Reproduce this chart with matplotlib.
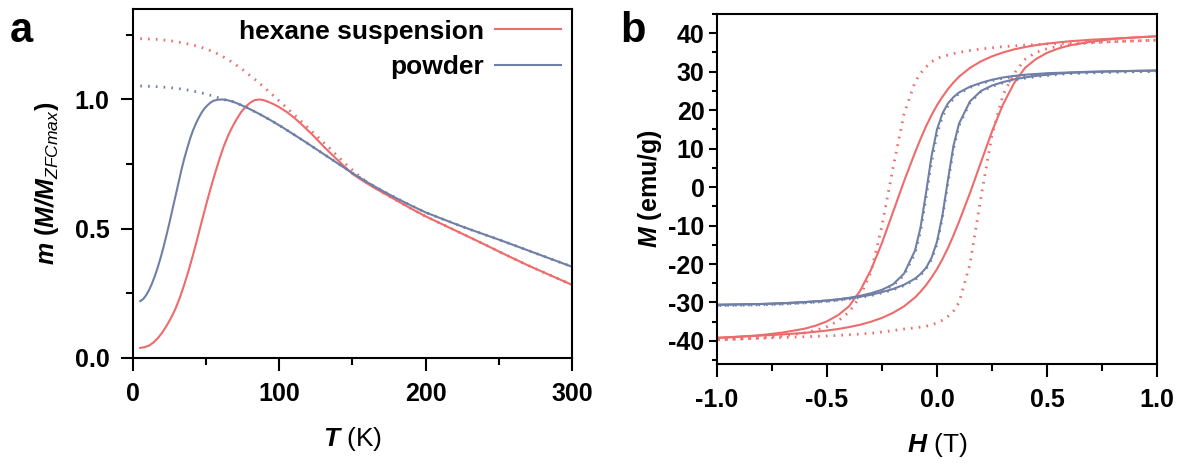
import matplotlib
matplotlib.use('Agg')
import matplotlib.pyplot as plt
from matplotlib.ticker import MultipleLocator

plt.rcParams['font.family'] = 'Liberation Sans'
plt.rcParams['mathtext.fontset'] = 'custom'
plt.rcParams['mathtext.rm'] = 'Liberation Sans'
plt.rcParams['mathtext.it'] = 'Liberation Sans:italic'
plt.rcParams['mathtext.bf'] = 'Liberation Sans:bold'
plt.rcParams['mathtext.bfit'] = 'Liberation Sans:bold:italic'

red = '#EE6B6B'
blue = '#6F7FA6'

# panel a: ZFC (solid) / FC (dotted), m = M/M_ZFCmax
T_hex_zfc = [5, 8, 11, 14, 17, 20, 23, 26, 29, 32, 35, 38, 41, 44, 47, 50, 53, 56, 59, 62,
             65, 68, 71, 74, 77, 80, 83, 86, 89, 92, 96, 100, 105, 110, 115, 120, 125, 130,
             135, 140, 145, 150, 155, 160, 165, 170, 180, 190, 200, 210, 220, 230, 240,
             250, 260, 270, 280, 290, 300]
m_hex_zfc = [0.039, 0.042, 0.048, 0.06, 0.077, 0.098, 0.125, 0.155, 0.19, 0.233, 0.283,
             0.338, 0.398, 0.462, 0.528, 0.593, 0.655, 0.713, 0.768, 0.818, 0.86, 0.895,
             0.925, 0.952, 0.972, 0.987, 0.997, 1.0, 0.998, 0.992, 0.982, 0.97, 0.952,
             0.93, 0.905, 0.878, 0.85, 0.82, 0.792, 0.765, 0.738, 0.712, 0.693, 0.675,
             0.658, 0.642, 0.61, 0.578, 0.548, 0.521, 0.494, 0.467, 0.44, 0.412, 0.385,
             0.358, 0.333, 0.308, 0.283]
T_hex_fc = [5, 15, 25, 35, 45, 55, 65, 75, 85, 95, 105, 115, 125, 135, 145, 155, 165, 175,
            180, 190, 200, 210, 220, 230, 240, 250, 260, 270, 280, 290, 300]
m_hex_fc = [1.235, 1.233, 1.228, 1.218, 1.205, 1.185, 1.155, 1.115, 1.07, 1.02, 0.968,
            0.915, 0.862, 0.808, 0.752, 0.702, 0.66, 0.625, 0.61, 0.578, 0.548, 0.521,
            0.494, 0.467, 0.44, 0.412, 0.385, 0.358, 0.333, 0.308, 0.283]

T_pow_zfc = [5, 7, 9, 11, 13, 15, 17, 19, 21, 23, 25, 27, 29, 31, 33, 35, 37, 39, 41, 43,
             45, 47, 49, 51, 53, 55, 58, 61, 64, 68, 72, 78, 86, 94, 102, 110, 118, 126,
             134, 142, 150, 160, 170, 180, 190, 200, 210, 220, 230, 240, 250, 260, 270,
             280, 290, 300]
m_pow_zfc = [0.22, 0.228, 0.243, 0.263, 0.288, 0.318, 0.352, 0.39, 0.432, 0.478, 0.525,
             0.575, 0.625, 0.675, 0.725, 0.77, 0.81, 0.848, 0.88, 0.907, 0.93, 0.95,
             0.966, 0.978, 0.988, 0.995, 0.999, 1.0, 0.998, 0.992, 0.983, 0.968, 0.945,
             0.92, 0.893, 0.864, 0.835, 0.805, 0.775, 0.745, 0.715, 0.68, 0.648, 0.618,
             0.59, 0.563, 0.541, 0.519, 0.498, 0.478, 0.458, 0.437, 0.416, 0.395, 0.374,
             0.353]
T_pow_fc = [5, 15, 25, 35, 45, 55, 62, 68, 72, 78, 86, 94, 102, 110, 118, 126, 134, 142,
            150, 160, 170, 180, 190, 200, 210, 220, 230, 240, 250, 260, 270, 280, 290, 300]
m_pow_fc = [1.052, 1.05, 1.046, 1.039, 1.028, 1.013, 1.0, 0.992, 0.983, 0.968, 0.945,
            0.92, 0.893, 0.864, 0.835, 0.805, 0.775, 0.745, 0.715, 0.68, 0.648, 0.618,
            0.59, 0.563, 0.541, 0.519, 0.498, 0.478, 0.458, 0.437, 0.416, 0.395, 0.374,
            0.353]

# panel b: hysteresis loops, branch from +1 T down and from -1 T up
H_dn = [1.0, 0.9, 0.8, 0.7, 0.6, 0.55, 0.5, 0.45, 0.4, 0.35, 0.3, 0.25, 0.2, 0.15, 0.1,
        0.075, 0.05, 0.025, 0.0, -0.025, -0.05, -0.075, -0.1, -0.15, -0.2, -0.25, -0.3,
        -0.35, -0.4, -0.45, -0.5, -0.55, -0.6, -0.7, -0.8, -0.9, -1.0]
H_up = [-1.0, -0.9, -0.8, -0.7, -0.6, -0.55, -0.5, -0.45, -0.4, -0.35, -0.3, -0.25, -0.2,
        -0.15, -0.1, -0.075, -0.05, -0.025, 0.0, 0.025, 0.05, 0.075, 0.1, 0.15, 0.2, 0.25,
        0.3, 0.35, 0.4, 0.45, 0.5, 0.55, 0.6, 0.7, 0.8, 0.9, 1.0]

M_hex_dn = [39.2, 38.9, 38.6, 38.3, 37.9, 37.6, 37.3, 36.9, 36.4, 35.8, 35.0, 34.0, 32.7,
            31.0, 28.7, 27.2, 25.5, 23.5, 21.3, 18.7, 15.8, 12.5, 9.0, 1.5, -6.5, -14.5,
            -21.5, -27.0, -31.0, -33.3, -34.9, -36.0, -36.8, -37.8, -38.5, -38.9, -39.2]
M_hex_up = [-39.2, -38.9, -38.6, -38.3, -37.9, -37.6, -37.3, -36.9, -36.4, -35.8, -35.0,
            -34.0, -32.7, -31.0, -28.7, -27.2, -25.5, -23.5, -21.3, -18.7, -15.8, -12.5,
            -9.0, -1.5, 6.5, 14.5, 21.5, 27.0, 31.0, 33.3, 34.9, 36.0, 36.8, 37.8, 38.5,
            38.9, 39.2]
M_hex_fc_dn = [38.2, 38.0, 37.8, 37.6, 37.4, 37.3, 37.2, 37.05, 36.9, 36.7, 36.5, 36.2,
               35.9, 35.5, 35.0, 34.7, 34.3, 34.0, 33.4, 32.6, 31.2, 29.6, 27.3, 19.0, 5.0,
               -10.0, -22.0, -28.5, -32.5, -34.8, -36.3, -37.2, -37.9, -38.7, -39.2, -39.5,
               -39.7]
M_hex_fc_up = [-39.7, -39.5, -39.3, -39.1, -38.9, -38.8, -38.7, -38.55, -38.4, -38.2,
               -38.0, -37.7, -37.3, -36.9, -36.6, -36.4, -36.2, -35.8, -35.3, -34.6,
               -33.6, -32.2, -30.0, -20.0, -2.5, 13.5, 24.0, 29.5, 33.2, 35.0, 36.0, 36.6,
               37.0, 37.5, 37.8, 38.0, 38.2]

M_pow_dn = [30.3, 30.2, 30.1, 30.0, 29.8, 29.7, 29.6, 29.4, 29.2, 28.9, 28.5, 27.9, 27.1,
            26.1, 24.6, 23.4, 21.8, 19.2, 15.0, 8.0, -1.5, -10.5, -16.5, -22.5, -25.3,
            -26.7, -27.6, -28.3, -28.8, -29.2, -29.5, -29.7, -29.9, -30.2, -30.4, -30.5,
            -30.6]
M_pow_up = [-30.6, -30.5, -30.4, -30.2, -29.9, -29.7, -29.5, -29.2, -28.9, -28.5, -28.0,
            -27.3, -26.5, -25.4, -23.8, -22.6, -21.0, -18.4, -14.2, -7.2, 2.0, 10.8, 16.5,
            22.3, 25.0, 26.4, 27.3, 28.0, 28.5, 28.9, 29.2, 29.5, 29.7, 29.9, 30.1, 30.2,
            30.3]
M_pow_fc_dn = [30.1, 30.0, 29.9, 29.8, 29.6, 29.5, 29.4, 29.2, 29.0, 28.7, 28.3, 27.7,
               26.9, 25.9, 24.3, 23.0, 21.2, 18.4, 13.8, 6.5, -2.8, -11.5, -17.2, -22.9,
               -25.6, -26.9, -27.8, -28.5, -29.0, -29.4, -29.7, -29.9, -30.1, -30.4, -30.6,
               -30.7, -30.8]
M_pow_fc_up = [-30.8, -30.7, -30.6, -30.4, -30.1, -29.9, -29.7, -29.4, -29.1, -28.7,
               -28.2, -27.5, -26.7, -25.6, -24.1, -22.9, -21.3, -18.8, -14.8, -7.8, 1.2,
               10.0, 16.0, 22.0, 24.8, 26.2, 27.1, 27.8, 28.3, 28.7, 29.0, 29.3, 29.5, 29.7,
               29.9, 30.0, 30.1]

dots = (0, (0.6, 2.2))

fig = plt.figure(figsize=(11.82, 4.63), dpi=100)
ax1 = fig.add_axes([0.1125, 0.2268, 0.3714, 0.7538])
ax2 = fig.add_axes([0.6066, 0.2138, 0.3723, 0.756])

ax1.plot(T_hex_zfc, m_hex_zfc, c=red, lw=1.5, label='hexane suspension')
ax1.plot(T_hex_fc, m_hex_fc, c=red, lw=2.0, ls=dots)
ax1.plot(T_pow_zfc, m_pow_zfc, c=blue, lw=1.5, label='powder')
ax1.plot(T_pow_fc, m_pow_fc, c=blue, lw=2.0, ls=dots)
ax1.set_xlim(0, 300)
ax1.set_ylim(0, 1.35)
ax1.xaxis.set_minor_locator(MultipleLocator(50))
ax1.yaxis.set_minor_locator(MultipleLocator(0.25))
ax1.set_xticks([0, 100, 200, 300])
ax1.set_yticks([0, 0.5, 1.0])
ax1.set_yticklabels(['0.0', '0.5', '1.0'])
ax1.set_xlabel(r'$\mathbfit{T}$ (K)', fontsize=19, labelpad=14)
ax1.set_ylabel(r'$\mathbfit{m}$ $\mathbf{(}\mathbfit{M/M}_{\mathit{ZFCmax}}\mathbf{)}$',
               fontsize=18, labelpad=10)
leg = ax1.legend(loc='upper right', frameon=False, markerfirst=False, fontsize=19,
                 handlelength=2.5, handletextpad=0.45, borderaxespad=0.1, borderpad=0.3,
                 labelspacing=0.45)
for t in leg.get_texts():
    t.set_fontweight('bold')

ax2.plot(H_dn, M_hex_fc_dn, c=red, lw=2.0, ls=dots)
ax2.plot(H_up, M_hex_fc_up, c=red, lw=2.0, ls=dots)
ax2.plot(H_dn, M_pow_fc_dn, c=blue, lw=2.0, ls=dots)
ax2.plot(H_up, M_pow_fc_up, c=blue, lw=2.0, ls=dots)
ax2.plot(H_dn, M_hex_dn, c=red, lw=1.5)
ax2.plot(H_up, M_hex_up, c=red, lw=1.5)
ax2.plot(H_dn, M_pow_dn, c=blue, lw=1.5)
ax2.plot(H_up, M_pow_up, c=blue, lw=1.5)
ax2.set_xlim(-1, 1)
ax2.set_ylim(-46, 45)
ax2.xaxis.set_minor_locator(MultipleLocator(0.25))
ax2.yaxis.set_minor_locator(MultipleLocator(5))
ax2.set_xticks([-1, -0.5, 0, 0.5, 1])
ax2.set_xticklabels(['-1.0', '-0.5', '0.0', '0.5', '1.0'])
ax2.set_yticks(range(-40, 41, 10))
ax2.set_yticklabels([str(v) for v in range(-40, 41, 10)])
ax2.set_xlabel(r'$\mathbfit{H}$ (T)', fontsize=19, labelpad=14)
ax2.set_ylabel(r'$\mathbfit{M}$ $\mathbf{(emu/g)}$', fontsize=18, labelpad=3)

for ax in (ax1, ax2):
    for s in ax.spines.values():
        s.set_linewidth(1.5)
    ax.tick_params(which='major', direction='out', length=9, width=1.5, pad=8, labelsize=18)
    ax.tick_params(which='minor', direction='out', length=5, width=1.5)
    for lab in ax.get_xticklabels() + ax.get_yticklabels():
        lab.set_fontweight('bold')
ax2.tick_params(axis='y', which='major', length=6, pad=3)
ax2.tick_params(axis='y', which='minor', length=3.5)

fig.text(0.0085, 0.909, 'a', fontsize=30, fontweight='bold', va='baseline')
fig.text(0.5245, 0.909, 'b', fontsize=30, fontweight='bold', va='baseline')

fig.savefig('out.png', dpi=100)
